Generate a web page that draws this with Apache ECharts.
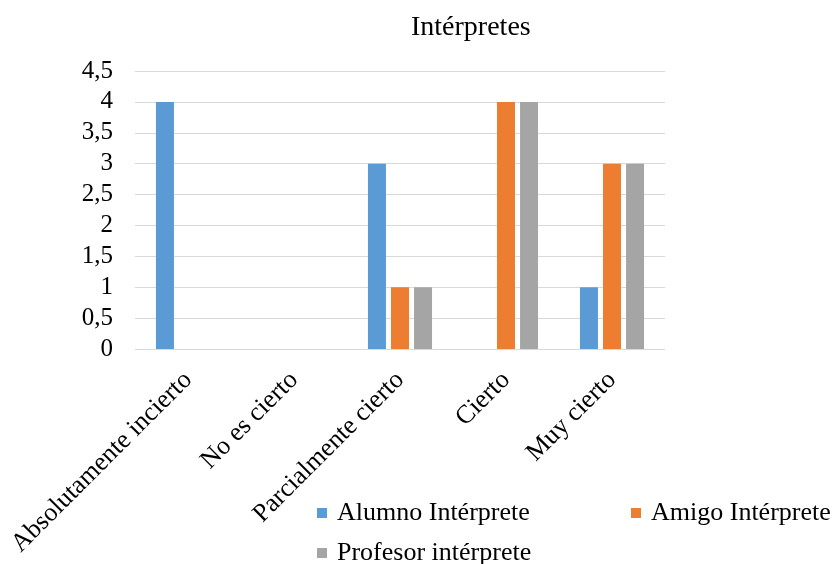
<!DOCTYPE html>
<html>
<head>
<meta charset="utf-8">
<script src="https://cdn.jsdelivr.net/npm/echarts@6/dist/echarts.min.js"></script>
<style>
  html, body { margin: 0; padding: 0; background: #fff; }
  #chart { width: 838px; height: 564px; }
</style>
</head>
<body>
<div id="chart"></div>
<script>
// Survey answers for the "Intérpretes" question
const categories = ['Absolutamente incierto', 'No es cierto', 'Parcialmente cierto', 'Cierto', 'Muy cierto'];
const seriesNames = ['Alumno Intérprete', 'Amigo Intérprete', 'Profesor intérprete'];
const alumno = [4, 0, 3, 0, 1];
const amigo = [0, 0, 1, 4, 3];
const profesor = [0, 0, 1, 4, 3];
const yTicks = { min: 0, max: 4.5, step: 0.5 };

const colors = ['#5b9bd5', '#ed7d31', '#a5a5a5'];
const font = '"Liberation Serif", "Times New Roman", serif';

const chart = echarts.init(document.getElementById('chart'), null, { renderer: 'canvas' });

const legendPos = [
  { left: 317, top: 500 },
  { left: 631, top: 500 },
  { left: 317, top: 540 }
];

const option = {
  animation: false,
  color: colors,
  textStyle: { fontFamily: font },
  title: {
    text: 'Intérpretes',
    left: 406,
    top: 9,
    textStyle: { fontFamily: font, fontSize: 28, fontWeight: 'normal', color: '#000' }
  },
  legend: seriesNames.map((name, i) => ({
    data: [name],
    left: legendPos[i].left,
    top: legendPos[i].top,
    icon: 'rect',
    itemWidth: 10,
    itemHeight: 10,
    itemGap: 8,
    padding: 0,
    textStyle: { fontFamily: font, fontSize: 26, color: '#000', padding: [0, 0, 0, 5] }
  })),
  grid: { left: 135, right: 173, top: 71, bottom: 215, containLabel: false },
  xAxis: {
    type: 'category',
    data: categories,
    axisLine: { show: false },
    axisTick: { show: false },
    axisLabel: {
      rotate: 45,
      interval: 0,
      margin: 27,
      fontFamily: font,
      fontSize: 26,
      color: '#000'
    }
  },
  yAxis: {
    type: 'value',
    min: yTicks.min,
    max: yTicks.max,
    interval: yTicks.step,
    axisLine: { show: false },
    axisTick: { show: false },
    splitLine: { lineStyle: { color: '#d9d9d9', width: 1 } },
    axisLabel: {
      margin: 22,
      fontFamily: font,
      fontSize: 25,
      color: '#000',
      formatter: v => String(v).replace('.', ',')
    }
  },
  series: [alumno, amigo, profesor].map((vals, i) => ({
    name: seriesNames[i],
    type: 'bar',
    data: vals,
    barWidth: 18,
    barGap: '28%',
    itemStyle: { color: colors[i] }
  }))
};

chart.setOption(option);
</script>
</body>
</html>
